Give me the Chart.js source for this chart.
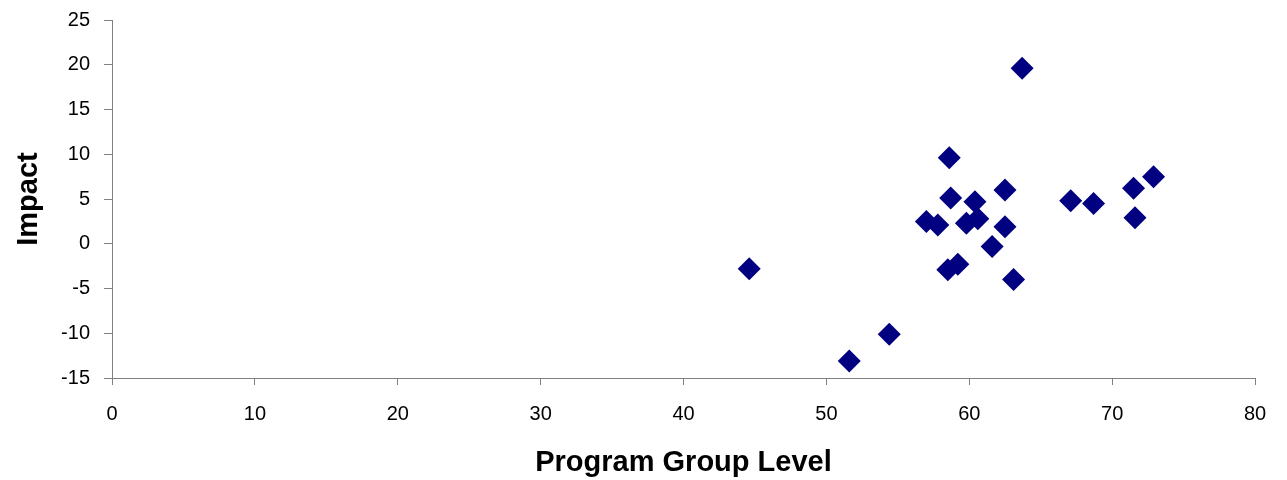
<!DOCTYPE html>
<html>
<head>
<meta charset="utf-8">
<script src="https://cdn.jsdelivr.net/npm/chart.js@4"></script>
<style>
  html, body { margin: 0; padding: 0; background: #fff; }
  #wrap { width: 1287px; height: 480px; }
</style>
</head>
<body>
<div id="wrap"><canvas id="chart"></canvas></div>
<script>
const groupLevel = [63.7, 58.6, 62.5, 58.7, 60.4, 67.1, 68.7, 71.5, 72.9, 71.6, 57.0, 57.8, 59.8, 60.6, 62.5, 61.6, 58.5, 59.2, 63.1, 44.6, 54.4, 51.6];
const impact = [19.6, 9.6, 6.0, 5.1, 4.7, 4.8, 4.5, 6.2, 7.5, 2.9, 2.5, 2.1, 2.3, 2.8, 1.9, -0.3, -2.9, -2.3, -4.0, -2.8, -10.1, -13.1];
const xTicks = [0, 10, 20, 30, 40, 50, 60, 70, 80];
const yTicks = [-15, -10, -5, 0, 5, 10, 15, 20, 25];

const points = groupLevel.map((x, i) => ({ x, y: impact[i] }));
const fontFamily = "'Liberation Sans', Arial, sans-serif";

new Chart(document.getElementById("chart").getContext("2d"), {
    type: "scatter",
    data: {
        datasets: [{
            label: "Impact",
            data: points,
            pointStyle: "rectRot",
            pointRadius: 11.5,
            pointHoverRadius: 11.5,
            backgroundColor: "#000080",
            borderColor: "#000080",
            borderWidth: 0
        }]
    },
    options: {
        responsive: true,
        maintainAspectRatio: false,
        animation: false,
        layout: { padding: { top: 20, right: 32, left: 0, bottom: 0 } },
        plugins: {
            legend: { display: false },
            tooltip: { enabled: false }
        },
        scales: {
            x: {
                type: "linear",
                min: xTicks[0],
                max: xTicks[xTicks.length - 1],
                afterBuildTicks: axis => { axis.ticks = xTicks.map(v => ({ value: v })); },
                afterFit: axis => { axis.height = 102; },
                grid: { drawOnChartArea: false, drawTicks: true, tickLength: 7, color: "#808080" },
                border: { color: "#808080", width: 1 },
                ticks: { color: "#000", padding: 17, font: { family: fontFamily, size: 20 } },
                title: {
                    display: true,
                    text: "Program Group Level",
                    color: "#000",
                    padding: { top: 0, bottom: 0 },
                    font: { family: fontFamily, size: 29, weight: "bold" }
                }
            },
            y: {
                type: "linear",
                min: yTicks[0],
                max: yTicks[yTicks.length - 1],
                afterBuildTicks: axis => { axis.ticks = yTicks.map(v => ({ value: v })); },
                afterFit: axis => {
                    axis.width = 112;
                    axis.paddingTop = 0;
                    axis.paddingBottom = 0;
                },
                grid: { drawOnChartArea: false, drawTicks: true, tickLength: 8, color: "#808080" },
                border: { color: "#808080", width: 1 },
                ticks: { color: "#000", padding: 14, font: { family: fontFamily, size: 20 } },
                title: {
                    display: true,
                    text: "Impact",
                    color: "#000",
                    padding: { top: 12, bottom: 0 },
                    font: { family: fontFamily, size: 29, weight: "bold" }
                }
            }
        }
    }
});
</script>
</body>
</html>
